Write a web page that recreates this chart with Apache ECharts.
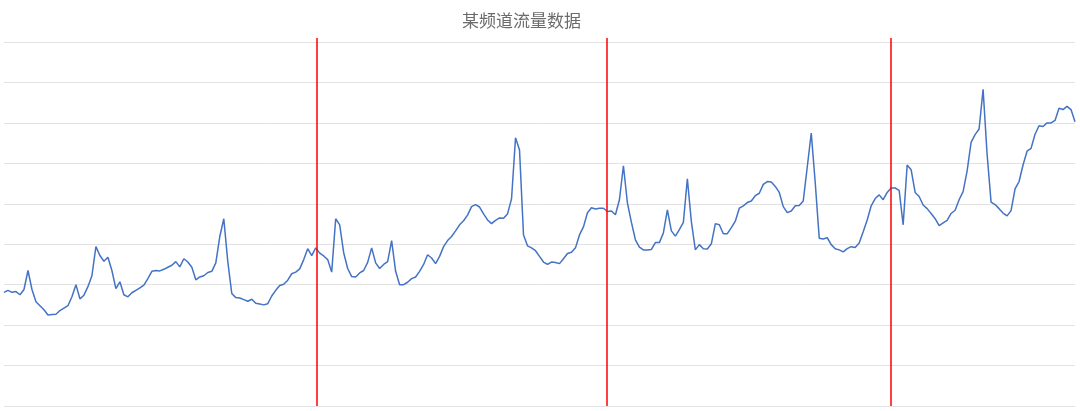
<!DOCTYPE html>
<html>
<head>
<meta charset="utf-8">
<script src="https://cdn.jsdelivr.net/npm/echarts@6/dist/echarts.min.js"></script>
<style>
html,body{margin:0;padding:0;background:#fff;}
#chart{width:1080px;height:411px;}
</style>
</head>
<body>
<div id="chart"></div>
<script>
const titleText = '某频道流量数据';
const traffic = [
281,286,281,283,275,288,335,288,258,248,238,225,226,227,236,242,248,270,300,265,
274,295,322,394,372,358,368,335,290,307,275,270,280,286,292,299,315,333,335,334,
338,343,348,357,344,364,356,343,312,319,322,330,333,354,419,463,357,278,268,267,
263,259,264,254,252,250,253,272,286,298,301,311,327,331,339,362,389,372,391,378,
371,362,331,463,448,379,340,320,319,329,335,355,391,354,340,350,357,409,333,300,
300,306,315,319,333,350,374,366,352,370,394,409,419,433,448,458,472,493,498,492,
475,460,451,459,465,464,475,512,663,633,423,396,391,384,370,356,350,356,355,352,
364,377,380,391,423,443,478,490,487,489,489,481,482,473,510,594,502,454,411,393,
386,386,387,404,404,428,485,433,420,436,454,562,456,386,399,389,388,401,451,448,
426,426,441,457,489,495,503,507,520,526,548,555,554,543,528,493,478,482,495,496,
507,591,675,552,415,413,416,399,389,386,381,389,394,392,403,431,460,495,513,522,
510,528,539,539,533,448,596,584,528,518,497,488,476,463,446,453,459,476,484,510,
530,581,652,671,685,783,623,504,498,488,477,470,483,537,555,596,630,637,672,693,
691,700,700,706,736,733,741,733,703
];
const markIndex = [78.3, 150.8, 221.9];
const yMin = 0, yMax = 900, yStep = 100;

const chart = echarts.init(document.getElementById('chart'), null, {renderer: 'canvas'});
chart.setOption({
  animation: false,
  backgroundColor: '#ffffff',
  title: {
    text: titleText,
    left: 457,
    top: 7,
    textStyle: {
      fontFamily: 'Noto Sans CJK SC',
      fontSize: 17,
      fontWeight: 'normal',
      color: '#6b6b6b'
    }
  },
  grid: {left: 4, right: 5, top: 42, bottom: 5, containLabel: false},
  xAxis: {
    type: 'value',
    min: 0,
    max: traffic.length - 1,
    axisLine: {show: false},
    axisTick: {show: false},
    axisLabel: {show: false},
    splitLine: {show: false}
  },
  yAxis: {
    type: 'value',
    min: yMin,
    max: yMax,
    interval: yStep,
    axisLine: {show: false},
    axisTick: {show: false},
    axisLabel: {show: false},
    splitLine: {show: true, lineStyle: {color: '#e2e2e2', width: 1}}
  },
  series: [{
    type: 'line',
    data: traffic.map((v, i) => [i, v]),
    showSymbol: false,
    symbol: 'none',
    smooth: false,
    lineStyle: {color: '#4472C4', width: 1.5},
    markLine: {
      silent: true,
      symbol: ['none', 'none'],
      label: {show: false},
      lineStyle: {color: '#ff0000', width: 1.5, type: 'solid'},
      emphasis: {disabled: true},
      data: markIndex.map(i => [{xAxis: i, y: 38}, {xAxis: i, yAxis: yMin}])
    }
  }]
});
</script>
</body>
</html>
